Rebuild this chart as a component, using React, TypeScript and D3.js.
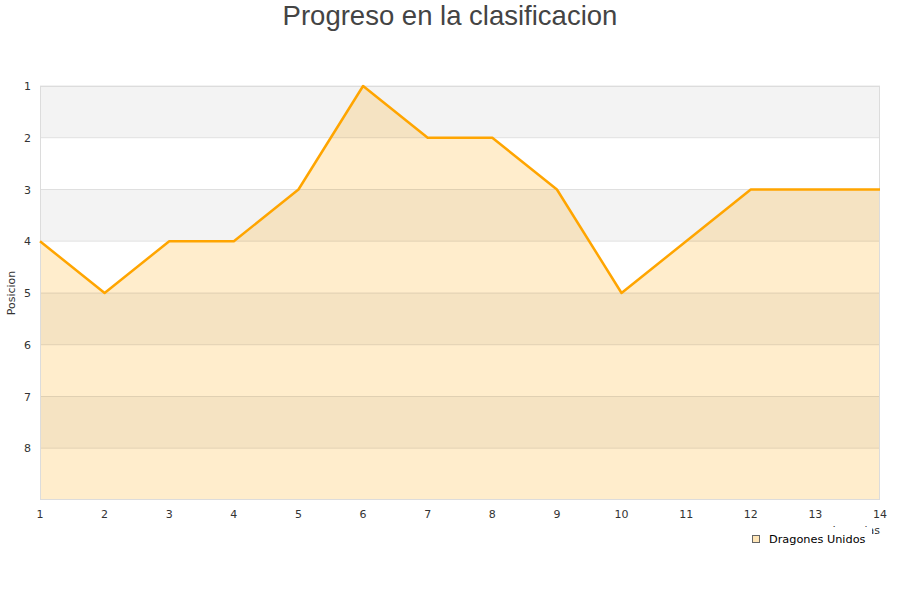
import React from "react";
import * as d3 from "d3";

const jornadas = [1, 2, 3, 4, 5, 6, 7, 8, 9, 10, 11, 12, 13, 14];
const posiciones = [4, 5, 4, 4, 3, 1, 2, 2, 3, 5, 4, 3, 3, 3];
const yTicks = [1, 2, 3, 4, 5, 6, 7, 8];
const seriesName = "Dragones Unidos";
const title = "Progreso en la clasificacion";

export default function App() {
  const W = 900, H = 600;
  const left = 40, right = 880, top = 86, bottom = 500;
  const x = d3.scaleLinear().domain([1, 14]).range([left, right]);
  const y = d3.scaleLinear().domain([1, 9]).range([top, bottom]);

  const pts = jornadas.map((j, i) => [j, posiciones[i]] as [number, number]);
  const line = d3.line<[number, number]>().x(d => x(d[0])).y(d => y(d[1]));
  const area = d3
    .area<[number, number]>()
    .x(d => x(d[0]))
    .y0(y(9))
    .y1(d => y(d[1]));

  const bands = d3.range(1, 9);
  const font = "'DejaVu Sans', sans-serif";

  return (
    <svg
      width={W}
      height={H}
      style={{ position: "absolute", left: 0, top: 0, background: "#fff" }}
    >
      <text
        x={450}
        y={25}
        textAnchor="middle"
        fontFamily="'Liberation Sans', Arial, sans-serif"
        fontSize={27.5}
        fill="#444"
      >
        {title}
      </text>

      {/* alternating horizontal bands */}
      {bands.map(b => (
        <rect
          key={b}
          x={left}
          y={y(b)}
          width={right - left}
          height={y(b + 1) - y(b)}
          fill={b % 2 === 1 ? "#f3f3f3" : "#ffffff"}
        />
      ))}

      {/* area under the position line */}
      <path d={area(pts) || ""} fill="#ffa500" fillOpacity={0.2} />

      {/* grid lines */}
      {yTicks.map(t => (
        <line
          key={t}
          x1={left}
          x2={right}
          y1={y(t)}
          y2={y(t)}
          stroke="#000"
          strokeOpacity={0.1}
          strokeWidth={1}
        />
      ))}
      <rect
        x={left + 0.5}
        y={top + 0.5}
        width={right - left - 1}
        height={bottom - top - 1}
        fill="none"
        stroke="#dcdcdc"
      />

      <path
        d={line(pts) || ""}
        fill="none"
        stroke="#ffa500"
        strokeWidth={2.5}
        strokeLinejoin="round"
      />

      {/* y axis labels */}
      {yTicks.map(t => (
        <text
          key={t}
          x={31}
          y={y(t) + 4}
          textAnchor="end"
          fontFamily={font}
          fontSize={11}
          fill="#333"
        >
          {t}
        </text>
      ))}
      <text
        transform={`translate(15,${(top + bottom) / 2}) rotate(-90)`}
        textAnchor="middle"
        fontFamily={font}
        fontSize={11}
        fill="#333"
      >
        Posicion
      </text>

      {/* x axis labels */}
      {jornadas.map(j => (
        <text
          key={j}
          x={x(j)}
          y={518}
          textAnchor="middle"
          fontFamily={font}
          fontSize={11}
          fill="#333"
        >
          {j}
        </text>
      ))}
      <text
        x={880}
        y={534}
        textAnchor="end"
        fontFamily={font}
        fontSize={11}
        fill="#333"
      >
        Jornadas
      </text>

      {/* legend */}
      <rect x={745} y={527} width={127} height={21} fill="#fff" />
      <rect
        x={752.5}
        y={535.5}
        width={7}
        height={7}
        fill="#ffe6b8"
        stroke="#666"
        strokeWidth={1}
      />
      <text x={769} y={543} fontFamily={font} fontSize={11.3} fill="#000">
        {seriesName}
      </text>
    </svg>
  );
}
